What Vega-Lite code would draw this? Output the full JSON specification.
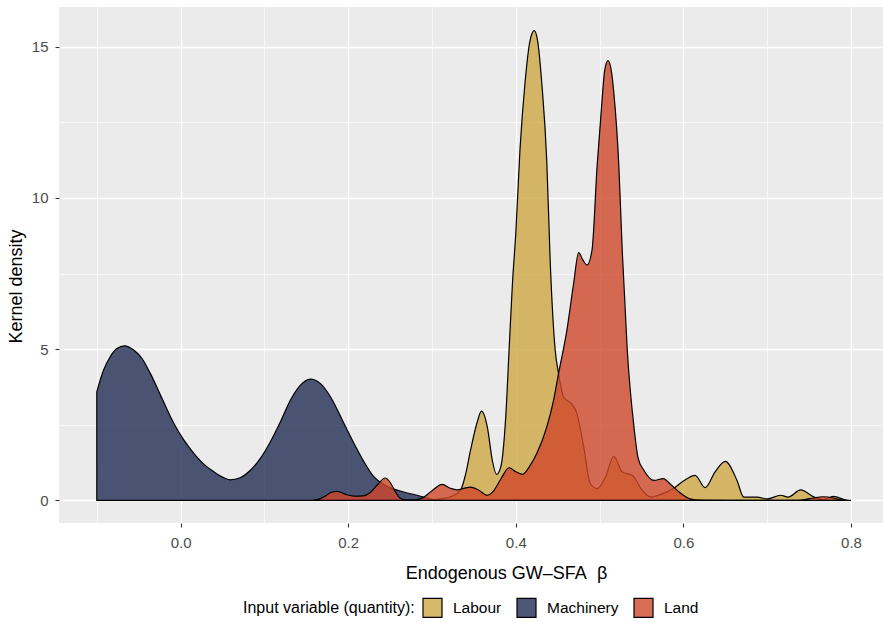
{
  "$schema": "https://vega.github.io/schema/vega-lite/v6.json",
  "width": 824,
  "height": 516,
  "autosize": {"type": "none"},
  "padding": {"left": 59, "top": 7, "right": 0, "bottom": 99},
  "background": "white",
  "config": {"view": {"fill": "#ebebeb", "stroke": null}, "font": "Liberation Sans"},
  "datasets": {
    "dens": [
      {"input": "Machinery", "x": -0.1, "d": 3.59},
      {"input": "Machinery", "x": -0.092, "d": 4.3},
      {"input": "Machinery", "x": -0.084, "d": 4.75},
      {"input": "Machinery", "x": -0.076, "d": 5.02},
      {"input": "Machinery", "x": -0.067, "d": 5.11},
      {"input": "Machinery", "x": -0.056, "d": 4.97},
      {"input": "Machinery", "x": -0.046, "d": 4.69},
      {"input": "Machinery", "x": -0.036, "d": 4.19},
      {"input": "Machinery", "x": -0.024, "d": 3.48},
      {"input": "Machinery", "x": -0.008, "d": 2.54},
      {"input": "Machinery", "x": 0.004, "d": 1.99},
      {"input": "Machinery", "x": 0.016, "d": 1.55},
      {"input": "Machinery", "x": 0.028, "d": 1.19},
      {"input": "Machinery", "x": 0.04, "d": 0.94},
      {"input": "Machinery", "x": 0.05, "d": 0.77},
      {"input": "Machinery", "x": 0.059, "d": 0.68},
      {"input": "Machinery", "x": 0.071, "d": 0.75},
      {"input": "Machinery", "x": 0.083, "d": 0.99},
      {"input": "Machinery", "x": 0.095, "d": 1.38},
      {"input": "Machinery", "x": 0.107, "d": 1.93},
      {"input": "Machinery", "x": 0.119, "d": 2.59},
      {"input": "Machinery", "x": 0.131, "d": 3.31},
      {"input": "Machinery", "x": 0.143, "d": 3.81},
      {"input": "Machinery", "x": 0.155, "d": 4.01},
      {"input": "Machinery", "x": 0.167, "d": 3.86},
      {"input": "Machinery", "x": 0.179, "d": 3.42},
      {"input": "Machinery", "x": 0.195, "d": 2.54},
      {"input": "Machinery", "x": 0.207, "d": 1.88},
      {"input": "Machinery", "x": 0.219, "d": 1.27},
      {"input": "Machinery", "x": 0.23, "d": 0.8},
      {"input": "Machinery", "x": 0.244, "d": 0.5},
      {"input": "Machinery", "x": 0.262, "d": 0.31},
      {"input": "Machinery", "x": 0.282, "d": 0.17},
      {"input": "Machinery", "x": 0.298, "d": 0.05},
      {"input": "Machinery", "x": 0.305, "d": 0.0},

      {"input": "Labour", "x": 0.285, "d": 0.0},
      {"input": "Labour", "x": 0.3, "d": 0.02},
      {"input": "Labour", "x": 0.31, "d": 0.05},
      {"input": "Labour", "x": 0.322, "d": 0.12},
      {"input": "Labour", "x": 0.334, "d": 0.33},
      {"input": "Labour", "x": 0.34, "d": 0.85},
      {"input": "Labour", "x": 0.346, "d": 1.66},
      {"input": "Labour", "x": 0.354, "d": 2.59},
      {"input": "Labour", "x": 0.359, "d": 2.95},
      {"input": "Labour", "x": 0.366, "d": 2.43},
      {"input": "Labour", "x": 0.372, "d": 1.32},
      {"input": "Labour", "x": 0.377, "d": 0.86},
      {"input": "Labour", "x": 0.382, "d": 1.1},
      {"input": "Labour", "x": 0.388, "d": 2.76},
      {"input": "Labour", "x": 0.392, "d": 4.97},
      {"input": "Labour", "x": 0.396, "d": 7.17},
      {"input": "Labour", "x": 0.4, "d": 8.83},
      {"input": "Labour", "x": 0.405, "d": 11.59},
      {"input": "Labour", "x": 0.411, "d": 13.8},
      {"input": "Labour", "x": 0.417, "d": 15.2},
      {"input": "Labour", "x": 0.422, "d": 15.53},
      {"input": "Labour", "x": 0.426, "d": 15.2},
      {"input": "Labour", "x": 0.431, "d": 13.8},
      {"input": "Labour", "x": 0.437, "d": 11.2},
      {"input": "Labour", "x": 0.441, "d": 7.95},
      {"input": "Labour", "x": 0.447, "d": 4.97},
      {"input": "Labour", "x": 0.451, "d": 4.2},
      {"input": "Labour", "x": 0.457, "d": 3.42},
      {"input": "Labour", "x": 0.467, "d": 3.18},
      {"input": "Labour", "x": 0.473, "d": 2.87},
      {"input": "Labour", "x": 0.481, "d": 1.77},
      {"input": "Labour", "x": 0.489, "d": 0.55},
      {"input": "Labour", "x": 0.497, "d": 0.39},
      {"input": "Labour", "x": 0.507, "d": 0.77},
      {"input": "Labour", "x": 0.517, "d": 1.46},
      {"input": "Labour", "x": 0.527, "d": 0.94},
      {"input": "Labour", "x": 0.539, "d": 0.83},
      {"input": "Labour", "x": 0.551, "d": 0.33},
      {"input": "Labour", "x": 0.561, "d": 0.11},
      {"input": "Labour", "x": 0.573, "d": 0.2},
      {"input": "Labour", "x": 0.588, "d": 0.39},
      {"input": "Labour", "x": 0.6, "d": 0.64},
      {"input": "Labour", "x": 0.614, "d": 0.83},
      {"input": "Labour", "x": 0.626, "d": 0.42},
      {"input": "Labour", "x": 0.638, "d": 0.95},
      {"input": "Labour", "x": 0.65, "d": 1.29},
      {"input": "Labour", "x": 0.664, "d": 0.66},
      {"input": "Labour", "x": 0.672, "d": 0.11},
      {"input": "Labour", "x": 0.688, "d": 0.11},
      {"input": "Labour", "x": 0.7, "d": 0.05},
      {"input": "Labour", "x": 0.716, "d": 0.17},
      {"input": "Labour", "x": 0.725, "d": 0.11},
      {"input": "Labour", "x": 0.74, "d": 0.35},
      {"input": "Labour", "x": 0.756, "d": 0.11},
      {"input": "Labour", "x": 0.767, "d": 0.03},
      {"input": "Labour", "x": 0.779, "d": 0.13},
      {"input": "Labour", "x": 0.795, "d": 0.01},
      {"input": "Labour", "x": 0.8, "d": 0.0},

      {"input": "Land", "x": 0.158, "d": 0.0},
      {"input": "Land", "x": 0.166, "d": 0.05},
      {"input": "Land", "x": 0.173, "d": 0.15},
      {"input": "Land", "x": 0.18, "d": 0.27},
      {"input": "Land", "x": 0.187, "d": 0.3},
      {"input": "Land", "x": 0.197, "d": 0.2},
      {"input": "Land", "x": 0.207, "d": 0.14},
      {"input": "Land", "x": 0.218, "d": 0.15},
      {"input": "Land", "x": 0.226, "d": 0.25},
      {"input": "Land", "x": 0.236, "d": 0.55},
      {"input": "Land", "x": 0.244, "d": 0.74},
      {"input": "Land", "x": 0.25, "d": 0.6},
      {"input": "Land", "x": 0.256, "d": 0.3},
      {"input": "Land", "x": 0.262, "d": 0.08},
      {"input": "Land", "x": 0.268, "d": 0.02},
      {"input": "Land", "x": 0.28, "d": 0.02},
      {"input": "Land", "x": 0.29, "d": 0.1},
      {"input": "Land", "x": 0.3, "d": 0.32},
      {"input": "Land", "x": 0.312, "d": 0.53},
      {"input": "Land", "x": 0.322, "d": 0.4},
      {"input": "Land", "x": 0.33, "d": 0.35},
      {"input": "Land", "x": 0.338, "d": 0.4},
      {"input": "Land", "x": 0.346, "d": 0.44},
      {"input": "Land", "x": 0.355, "d": 0.35},
      {"input": "Land", "x": 0.366, "d": 0.17},
      {"input": "Land", "x": 0.373, "d": 0.3},
      {"input": "Land", "x": 0.382, "d": 0.7},
      {"input": "Land", "x": 0.392, "d": 1.08},
      {"input": "Land", "x": 0.4, "d": 0.95},
      {"input": "Land", "x": 0.408, "d": 0.86},
      {"input": "Land", "x": 0.417, "d": 1.15},
      {"input": "Land", "x": 0.425, "d": 1.55},
      {"input": "Land", "x": 0.437, "d": 2.43},
      {"input": "Land", "x": 0.445, "d": 3.3},
      {"input": "Land", "x": 0.451, "d": 4.19},
      {"input": "Land", "x": 0.461, "d": 5.63},
      {"input": "Land", "x": 0.469, "d": 7.17},
      {"input": "Land", "x": 0.475, "d": 8.19},
      {"input": "Land", "x": 0.48, "d": 7.95},
      {"input": "Land", "x": 0.485, "d": 7.78},
      {"input": "Land", "x": 0.491, "d": 8.28},
      {"input": "Land", "x": 0.497, "d": 11.04},
      {"input": "Land", "x": 0.503, "d": 13.25},
      {"input": "Land", "x": 0.506, "d": 14.2},
      {"input": "Land", "x": 0.51, "d": 14.54},
      {"input": "Land", "x": 0.514, "d": 14.2},
      {"input": "Land", "x": 0.517, "d": 13.47},
      {"input": "Land", "x": 0.523, "d": 11.04},
      {"input": "Land", "x": 0.527, "d": 8.28},
      {"input": "Land", "x": 0.533, "d": 4.97},
      {"input": "Land", "x": 0.541, "d": 2.43},
      {"input": "Land", "x": 0.546, "d": 1.4},
      {"input": "Land", "x": 0.553, "d": 0.99},
      {"input": "Land", "x": 0.565, "d": 0.66},
      {"input": "Land", "x": 0.576, "d": 0.72},
      {"input": "Land", "x": 0.584, "d": 0.55},
      {"input": "Land", "x": 0.596, "d": 0.25},
      {"input": "Land", "x": 0.608, "d": 0.05},
      {"input": "Land", "x": 0.62, "d": 0.01},
      {"input": "Land", "x": 0.73, "d": 0.0},
      {"input": "Land", "x": 0.745, "d": 0.03},
      {"input": "Land", "x": 0.755, "d": 0.08},
      {"input": "Land", "x": 0.767, "d": 0.12},
      {"input": "Land", "x": 0.779, "d": 0.08},
      {"input": "Land", "x": 0.79, "d": 0.0}
    ]
  },
  "data": {"name": "dens"},
  "encoding": {
    "x": {
      "field": "x",
      "type": "quantitative",
      "scale": {"domain": [-0.1451, 0.8382], "nice": false, "zero": false},
      "axis": {
        "values": [-0.1, 0, 0.1, 0.2, 0.3, 0.4, 0.5, 0.6, 0.7, 0.8],
        "labelExpr": "abs(datum.value*5-round(datum.value*5))<0.000001 ? format(datum.value,'.1f') : ''",
        "domain": false,
        "grid": true,
        "gridColor": "white",
        "gridOpacity": 1,
        "gridWidth": {"condition": {"test": "abs(datum.value*5-round(datum.value*5))<0.000001", "value": 1.3}, "value": 0.65},
        "tickColor": "#333333",
        "tickSize": 4,
        "tickWidth": 1.1,
        "tickOpacity": {"condition": {"test": "abs(datum.value*5-round(datum.value*5))<0.000001", "value": 1}, "value": 0},
        "labelFontSize": 15,
        "labelColor": "#4d4d4d",
        "labelPadding": 8,
        "labelFlush": false,
        "labelOverlap": false,
        "title": "Endogenous GW–SFA\u00a0 β",
        "titleFontSize": 18,
        "titleFontWeight": "normal",
        "titleColor": "black",
        "titlePadding": 14,
        "titleX": 447
      }
    },
    "y": {
      "field": "d",
      "type": "quantitative",
      "stack": null,
      "scale": {"domain": [-0.747, 16.31], "nice": false, "zero": false},
      "axis": {
        "values": [0, 2.5, 5, 7.5, 10, 12.5, 15],
        "labelExpr": "datum.value % 5 === 0 ? datum.label : ''",
        "domain": false,
        "grid": true,
        "gridColor": "white",
        "gridOpacity": 1,
        "gridWidth": {"condition": {"test": "datum.value % 5 === 0", "value": 1.3}, "value": 0.65},
        "tickColor": "#333333",
        "tickSize": 4,
        "tickWidth": 1.1,
        "tickOpacity": {"condition": {"test": "datum.value % 5 === 0", "value": 1}, "value": 0},
        "labelFontSize": 15,
        "labelColor": "#4d4d4d",
        "labelPadding": 7,
        "labelFlush": false,
        "labelOverlap": false,
        "title": "Kernel density",
        "titleFontSize": 18,
        "titleFontWeight": "normal",
        "titleColor": "black",
        "titlePadding": 6,
        "titleY": 279
      }
    },
    "y2": {"datum": 0},
    "color": {
      "field": "input",
      "type": "nominal",
      "scale": {"domain": ["Labour", "Machinery", "Land"], "range": ["#cea845", "#222d54", "#cf472a"]},
      "legend": {
        "orient": "none",
        "legendX": 184,
        "legendY": 590,
        "direction": "horizontal",
        "title": "Input variable (quantity):",
        "titleOrient": "left",
        "titleFontSize": 16,
        "titleFontWeight": "normal",
        "titleColor": "black",
        "titlePadding": 7,
        "titleBaseline": "middle",
        "titleAnchor": "middle",
        "labelFontSize": 15.5,
        "labelColor": "black",
        "labelOffset": 10,
        "columnPadding": 12,
        "symbolType": "square",
        "symbolSize": 361,
        "symbolStrokeColor": "black",
        "symbolStrokeWidth": 1.2,
        "encode": {"symbols": {"update": {"fillOpacity": {"value": 0.8}, "stroke": {"value": "black"}, "strokeWidth": {"value": 1.2}}}}
      }
    }
  },
  "layer": [
    {
      "transform": [{"filter": "datum.input === 'Machinery'"}],
      "mark": {"type": "area", "interpolate": "monotone", "fillOpacity": 0.8, "stroke": "black", "strokeWidth": 1.2}
    },
    {
      "transform": [{"filter": "datum.input === 'Labour'"}],
      "mark": {"type": "area", "interpolate": "monotone", "fillOpacity": 0.8, "stroke": "black", "strokeWidth": 1.2}
    },
    {
      "transform": [{"filter": "datum.input === 'Land'"}],
      "mark": {"type": "area", "interpolate": "monotone", "fillOpacity": 0.8, "stroke": "black", "strokeWidth": 1.2}
    }
  ]
}
